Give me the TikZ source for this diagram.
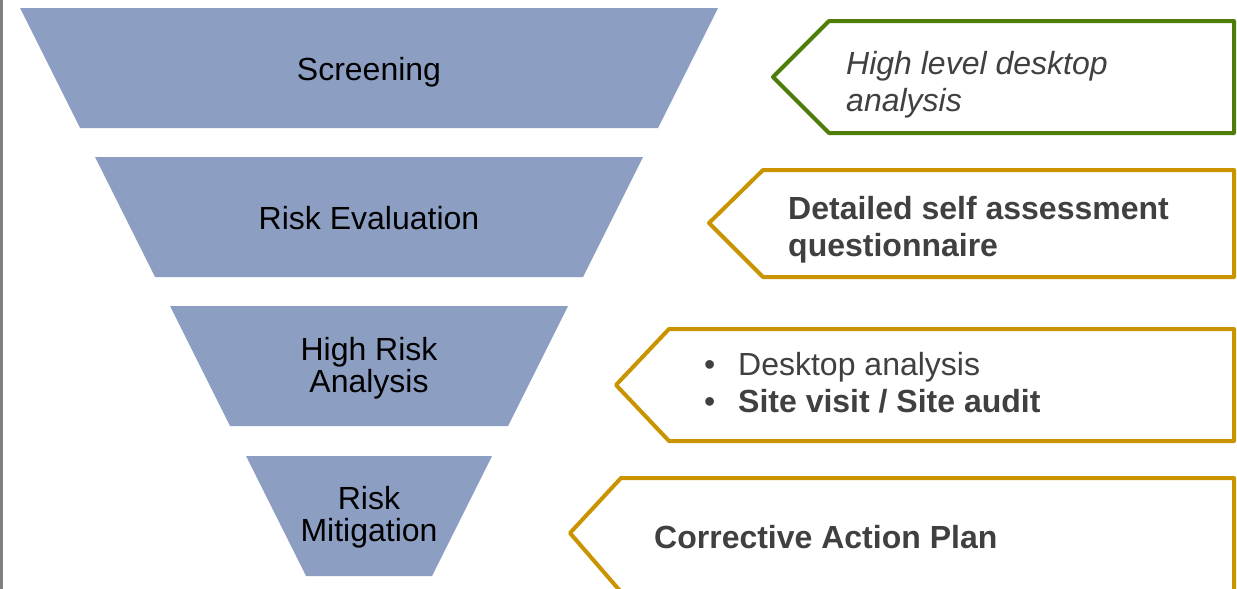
\documentclass[tikz,border=0pt]{standalone}
\usepackage{fontspec}
\setmainfont{Liberation Sans}
\definecolor{funnel}{HTML}{8C9FC3}
\definecolor{greenedge}{HTML}{4E7D0A}
\definecolor{goldedge}{HTML}{C99400}
\definecolor{txtgray}{HTML}{404040}
\begin{document}
\begin{tikzpicture}[x=1pt,y=-1pt,
  stage/.style={fill=funnel,draw=none},
  tag/.style={draw,line width=4pt,line join=round,fill=white},
  stagetext/.style={align=center,inner sep=0pt,text=black,font=\fontsize{32}{32}\selectfont},
  tagtext/.style={align=left,anchor=west,inner sep=0pt,text=txtgray,font=\fontsize{32}{37}\selectfont}]
\useasboundingbox (0,0) rectangle (1237,589);
\fill[white] (0,0) rectangle (1237,589);
\fill[gray] (0,0) rectangle (3,589);
% funnel stages
\path[stage] (20,8) -- (718,8) -- (658,128) -- (80,128) -- cycle;
\path[stage] (95,157) -- (643,157) -- (583,277) -- (155,277) -- cycle;
\path[stage] (170,306) -- (568,306) -- (508,426) -- (230,426) -- cycle;
\path[stage] (246,456) -- (492,456) -- (432,576) -- (306,576) -- cycle;
\node[stagetext] (s1) at (369,72) {Screening};
\node[stagetext] (s2) at (369,218) {Risk Evaluation};
\node[stagetext] (s3) at (369,368) {High Risk\\Analysis};
\node[stagetext] (s4) at (369,517) {Risk\\Mitigation};
% tags
\path[tag,draw=greenedge] (773,77) -- (829,21) -- (1234,21) -- (1234,133) -- (829,133) -- cycle;
\path[tag,draw=goldedge] (709,223) -- (763,170) -- (1234,170) -- (1234,277) -- (763,277) -- cycle;
\path[tag,draw=goldedge] (616,385) -- (669,329) -- (1234,329) -- (1234,441) -- (669,441) -- cycle;
\path[tag,draw=goldedge] (570,533) -- (621,478) -- (1234,478) -- (1234,592) -- (621,592) -- cycle;
\node[tagtext] (t1) at (846,85) {\itshape High level desktop\\\itshape analysis};
\node[tagtext] (t2) at (788,230) {\bfseries Detailed self assessment\\\bfseries questionnaire};
\node[tagtext] (t3) at (700,383) {\makebox[38pt][l]{\hspace{4pt}•}Desktop analysis\\\makebox[38pt][l]{\hspace{4pt}•}\bfseries Site visit / Site audit};
\node[tagtext] (t4) at (654,537) {\bfseries Corrective Action Plan};
\end{tikzpicture}
\end{document}
